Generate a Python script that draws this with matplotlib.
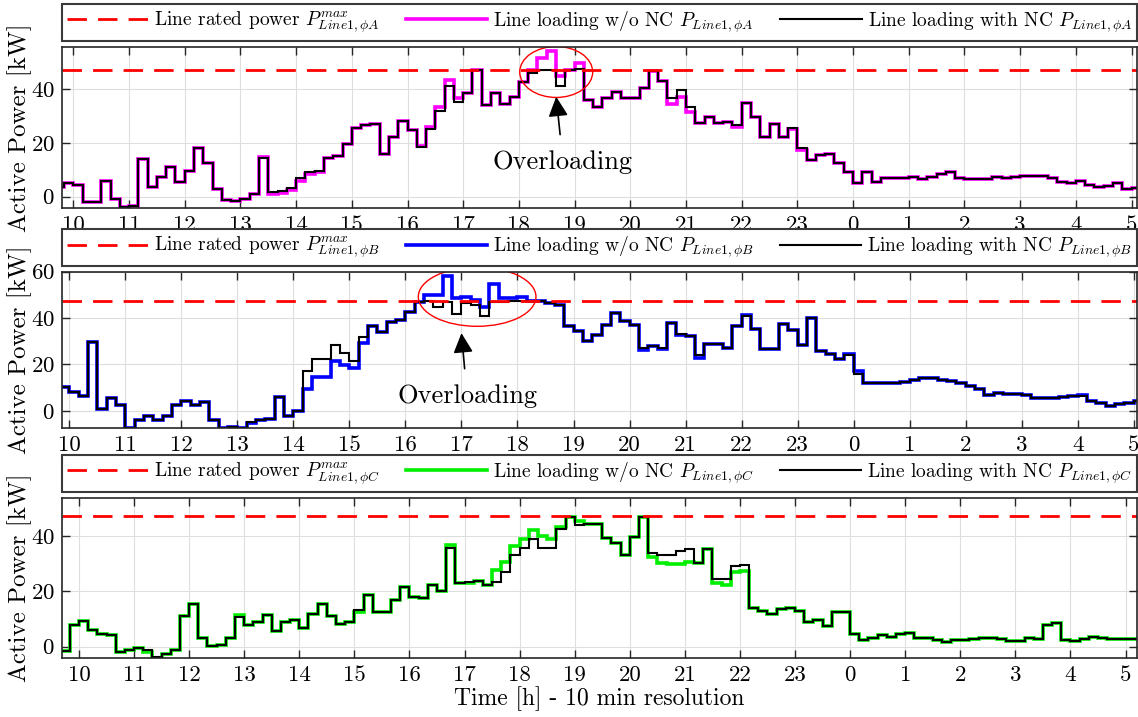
import numpy as np
import matplotlib
matplotlib.use('Agg')
import matplotlib.pyplot as plt
from matplotlib.patches import Ellipse

# LaTeX-like look
plt.rcParams['font.family'] = 'cmr10'
plt.rcParams['mathtext.fontset'] = 'cm'
plt.rcParams['axes.unicode_minus'] = False
plt.rcParams['axes.formatter.use_mathtext'] = True

# 10 min resolution line loading [kW], one value per 10 min slot
rated_power = 47.2

# phase A, first slot starts 09:40
start_A = 9 + 40 / 60
with_nc_A = [3.7, 5.0,
             4.3, -1.9, -1.9, 5.8, -0.9, -4.0,
             -3.3, 14.0, 3.7, 7.2, 10.9, 5.6,
             9.7, 17.9, 12.4, 2.8, -1.2, -1.5,
             -0.9, 1.1, 14.2, 1.9, 2.2, 3.3,
             6.8, 9.3, 9.5, 14.2, 15.1, 19.6,
             25.6, 26.5, 26.9, 16.0, 22.2, 28.1,
             24.6, 18.4, 25.0, 31.7, 41.0, 35.3,
             38.4, 47.0, 34.0, 38.6, 34.3, 36.9,
             42.7, 45.8, 47.0, 47.0, 41.2, 47.0,
             47.4, 35.9, 33.2, 36.8, 39.0, 36.8,
             36.8, 40.2, 46.7, 42.9, 36.8, 39.6,
             33.4, 27.2, 29.7, 27.2, 27.6, 26.6,
             34.7, 29.7, 22.3, 26.9, 22.3, 25.4,
             17.9, 13.6, 15.5, 15.9, 12.4, 9.3,
             5.0, 9.3, 5.6, 6.8, 7.1, 7.1,
             7.5, 6.5, 7.5, 8.4, 9.2, 6.8,
             6.7, 6.6, 6.6, 7.5, 6.8, 7.5,
             7.6, 7.7, 7.7, 7.1, 5.6, 5.2,
             6.0, 4.3, 3.7, 4.0, 5.0, 2.7,
             3.4]
without_nc_A = [3.7, 5.0,
                4.3, -1.9, -1.9, 5.8, -0.9, -4.0,
                -3.3, 14.0, 3.7, 7.2, 10.9, 5.6,
                9.7, 17.9, 12.4, 2.8, -1.2, -1.5,
                -0.9, 1.1, 14.6, 0.9, 1.2, 2.5,
                5.8, 8.5, 9.0, 14.2, 15.1, 19.6,
                25.6, 26.5, 26.9, 16.0, 22.2, 28.1,
                24.6, 19.0, 26.0, 33.4, 43.3, 36.5,
                38.4, 47.0, 34.0, 38.6, 34.3, 36.9,
                42.7, 47.0, 51.4, 54.0, 44.9, 47.0,
                49.5, 35.9, 33.2, 36.8, 39.0, 36.8,
                36.8, 40.2, 46.7, 42.9, 34.3, 37.1,
                31.6, 27.2, 29.7, 27.2, 27.6, 26.0,
                34.7, 29.7, 22.3, 26.9, 22.3, 25.1,
                17.3, 13.6, 15.5, 15.9, 12.4, 9.3,
                5.0, 9.3, 5.6, 6.8, 7.1, 7.1,
                7.5, 6.5, 7.5, 8.4, 9.2, 6.8,
                6.7, 6.6, 6.6, 7.5, 6.8, 7.5,
                7.6, 7.7, 7.7, 7.1, 5.6, 5.2,
                6.0, 4.3, 3.7, 4.0, 5.0, 2.7,
                3.4]

# phase B, first slot starts 09:50
start_B = 9 + 50 / 60
with_nc_B = [10.1,
             8.1, 6.2, 29.6, 0.9, 5.5, 2.6,
             -7.3, -3.9, -2.0, -3.9, -2.4, 2.6,
             4.3, 2.6, 3.7, -3.9, -7.2, -6.9,
             -7.3, -4.9, -4.0, -3.5, 5.8, -2.0,
             0.0, 17.0, 22.3, 22.3, 28.5, 24.9,
             21.6, 31.7, 36.4, 34.0, 38.3, 39.3,
             42.6, 46.9, 47.3, 44.8, 47.0, 41.7,
             46.5, 45.8, 40.7, 46.9, 46.9, 47.3,
             47.5, 47.5, 47.2, 46.3, 45.8, 36.4,
             34.5, 30.2, 32.5, 36.8, 42.4, 38.8,
             36.8, 27.3, 27.8, 27.3, 37.8, 33.1,
             32.1, 23.9, 28.8, 28.8, 27.3, 36.4,
             40.7, 35.4, 26.8, 26.8, 37.4, 35.0,
             28.2, 40.2, 25.9, 24.4, 22.5, 24.0,
             16.1, 12.1, 12.1, 12.1, 12.1, 12.4,
             13.1, 14.3, 14.0, 13.5, 12.8, 11.8,
             10.6, 9.5, 6.7, 7.7, 7.4, 7.3,
             6.7, 5.5, 5.5, 5.5, 5.8, 6.3,
             6.3, 4.1, 3.3, 2.2, 2.9, 3.3,
             4.4]
without_nc_B = [10.1,
                8.1, 6.2, 29.6, 0.9, 5.5, 2.6,
                -7.3, -3.9, -2.0, -3.9, -2.4, 2.6,
                4.3, 2.6, 3.7, -3.9, -7.2, -6.9,
                -7.3, -5.3, -4.0, -3.5, 5.8, -2.0,
                0.0, 9.5, 14.4, 14.4, 21.3, 19.9,
                18.4, 29.2, 36.4, 34.0, 38.3, 39.3,
                42.6, 46.9, 49.8, 50.0, 58.0, 48.8,
                49.2, 48.0, 44.6, 54.7, 48.6, 48.6,
                48.9, 47.5, 47.2, 46.3, 45.8, 36.4,
                34.5, 30.2, 32.5, 36.8, 42.4, 38.8,
                36.8, 26.3, 27.8, 26.6, 37.8, 32.6,
                32.1, 23.0, 28.8, 28.8, 27.3, 36.4,
                41.4, 35.4, 26.8, 26.8, 37.4, 35.0,
                28.2, 40.2, 25.9, 24.4, 22.5, 24.7,
                17.2, 12.1, 12.1, 12.1, 12.1, 12.4,
                13.1, 14.3, 14.0, 13.5, 12.8, 11.8,
                10.9, 9.5, 6.7, 7.7, 7.4, 7.3,
                6.7, 5.5, 5.5, 5.5, 5.8, 6.3,
                7.0, 4.1, 3.3, 2.2, 2.9, 3.3,
                4.4]

# phase C, first slot starts 09:40
start_C = 9 + 40 / 60
with_nc_C = [-1.4, 7.8,
             9.3, 6.0, 4.5, 4.2, -2.0, -1.2,
             -0.4, -1.3, -3.9, -2.8, -1.2, 11.2,
             15.4, 3.3, 0.4, 0.7, 3.0, 10.8,
             7.8, 9.0, 11.4, 5.8, 8.8, 9.6,
             6.9, 12.0, 15.3, 11.2, 8.1, 8.8,
             13.3, 18.7, 12.4, 12.7, 16.9, 21.7,
             18.1, 17.7, 22.3, 20.2, 35.8, 22.9,
             23.3, 23.7, 22.5, 23.3, 26.9, 33.4,
             35.8, 39.2, 35.8, 35.8, 42.8, 47.0,
             44.2, 44.6, 44.6, 39.4, 37.7, 33.4,
             39.8, 47.0, 34.1, 33.1, 33.4, 34.6,
             35.3, 30.5, 35.5, 24.5, 24.5, 29.2,
             29.5, 13.9, 13.0, 11.8, 13.7, 13.9,
             13.0, 9.1, 9.7, 7.6, 12.5, 12.5,
             4.6, 2.4, 3.3, 4.2, 3.6, 4.5,
             5.1, 3.3, 3.3, 2.4, 1.6, 2.4,
             2.4, 2.8, 3.0, 3.3, 2.7, 2.1,
             2.1, 3.0, 2.8, 7.9, 8.5, 2.4,
             2.1, 2.8, 3.4, 3.0, 2.8, 2.7,
             2.8, 2.8]
without_nc_C = [-1.4, 7.8,
                9.3, 6.0, 4.5, 4.2, -2.0, -1.2,
                -0.4, -1.8, -4.0, -2.8, -1.2, 11.2,
                15.4, 3.3, 0.4, 0.7, 3.0, 11.4,
                7.8, 9.0, 11.4, 5.8, 8.8, 9.6,
                6.9, 12.0, 15.3, 11.2, 8.1, 8.8,
                12.4, 18.7, 12.4, 12.7, 16.9, 21.7,
                18.1, 17.7, 22.3, 20.2, 37.0, 22.9,
                22.9, 23.7, 22.3, 27.7, 30.7, 36.5,
                39.2, 42.2, 40.1, 38.9, 43.4, 47.0,
                45.4, 44.6, 44.6, 39.4, 37.7, 33.4,
                39.8, 47.0, 32.5, 30.4, 29.9, 29.9,
                30.7, 30.4, 35.5, 22.9, 22.3, 26.9,
                27.3, 13.9, 13.0, 11.8, 13.7, 13.9,
                13.0, 9.1, 9.7, 7.6, 12.5, 12.5,
                4.6, 2.4, 3.3, 4.2, 3.6, 4.5,
                5.1, 3.3, 3.3, 2.4, 1.6, 2.4,
                2.4, 2.8, 3.0, 3.3, 2.7, 2.1,
                2.1, 3.0, 2.8, 7.9, 8.5, 2.4,
                2.1, 2.8, 3.4, 3.0, 2.8, 2.7,
                2.8, 2.8]

hour_ticks = np.arange(10, 30)
hour_labels = [str(h % 24) for h in hour_ticks]

panels = [
    # phase, start, w/o NC, with NC, colour, xlim, ylim, yticks, axes rect
    ('A', start_A, without_nc_A, with_nc_A, '#ff00ff', (9.79, 29.10), (-4.3, 55.7), [0, 20, 40],
     [0.0542, 0.7095, 0.9450, 0.2254]),
    ('B', start_B, without_nc_B, with_nc_B, '#0000ff', (9.864, 29.06), (-7.5, 60), [0, 20, 40, 60],
     [0.0542, 0.4027, 0.9450, 0.2184]),
    ('C', start_C, without_nc_C, with_nc_C, '#00ee00', (9.686, 29.21), (-4.2, 54), [0, 20, 40],
     [0.0542, 0.0819, 0.9450, 0.2240]),
]

fig = plt.figure(figsize=(11.38, 7.17), dpi=100)
axes = []
for phase, t0, wo, wi, col, xl, yl, yt, rect in panels:
    ax = fig.add_axes(rect)
    axes.append(ax)
    edges = t0 + np.arange(len(wi) + 1) / 6
    sub = r'_{Line1,\phi %s}' % phase
    ax.axhline(rated_power, color='#ff0000', lw=2, linestyle=(0, (7, 4)),
               label=r'Line rated power $P^{max}%s$' % sub)
    ax.stairs(wo, edges, baseline=None, color=col, lw=2.6,
              label=r'Line loading w/o NC $P%s$' % sub)
    ax.stairs(wi, edges, baseline=None, color='black', lw=1.5,
              label=r'Line loading with NC $P%s$' % sub)

    ax.set_xlim(*xl)
    ax.set_ylim(*yl)
    ax.set_xticks(hour_ticks)
    ax.set_xticklabels(hour_labels)
    ax.set_yticks(yt)
    ax.grid(True, color='#dedede', lw=0.8)
    ax.set_axisbelow(True)
    ax.tick_params(direction='in', top=True, right=True, length=6, width=1,
                   color='#262626', labelsize=16.5, pad=5)
    for s in ax.spines.values():
        s.set_color('#262626')
        s.set_linewidth(1.2)
    ax.set_ylabel('Active Power [kW]', fontsize=18)
    ax.yaxis.set_label_coords(-0.028, 0.5)

    leg = ax.legend(loc='lower left', bbox_to_anchor=(0, 1.035, 1, 0.2), mode='expand',
                    ncol=3, fontsize=14, handlelength=4.2, handletextpad=0.3,
                    borderaxespad=0, fancybox=False, framealpha=1, borderpad=0.25)
    leg.get_frame().set_edgecolor('#3a3a3a')
    leg.get_frame().set_linewidth(1.5)

axes[-1].set_xlabel('Time [h] - 10 min resolution', fontsize=17, labelpad=1)

# overloading markers
axA, axB = axes[0], axes[1]
axA.add_patch(Ellipse((18.67, 46.3), 1.31, 18.9, fill=False, ec='#ff0000', lw=1))
axA.annotate('Overloading', xy=(18.67, 37.1), xytext=(18.79, 13.0), fontsize=19,
             ha='center', va='center',
             arrowprops=dict(arrowstyle='-|>', color='black', lw=1.2, mutation_scale=30,
                             shrinkA=9, shrinkB=0))
axB.add_patch(Ellipse((17.28, 49.2), 2.1, 25.5, fill=False, ec='#ff0000', lw=1))
axB.annotate('Overloading', xy=(17.0, 33.5), xytext=(17.1, 6.5), fontsize=19,
             ha='center', va='center',
             arrowprops=dict(arrowstyle='-|>', color='black', lw=1.2, mutation_scale=30,
                             shrinkA=9, shrinkB=0))

fig.savefig('out.png', dpi=100)
